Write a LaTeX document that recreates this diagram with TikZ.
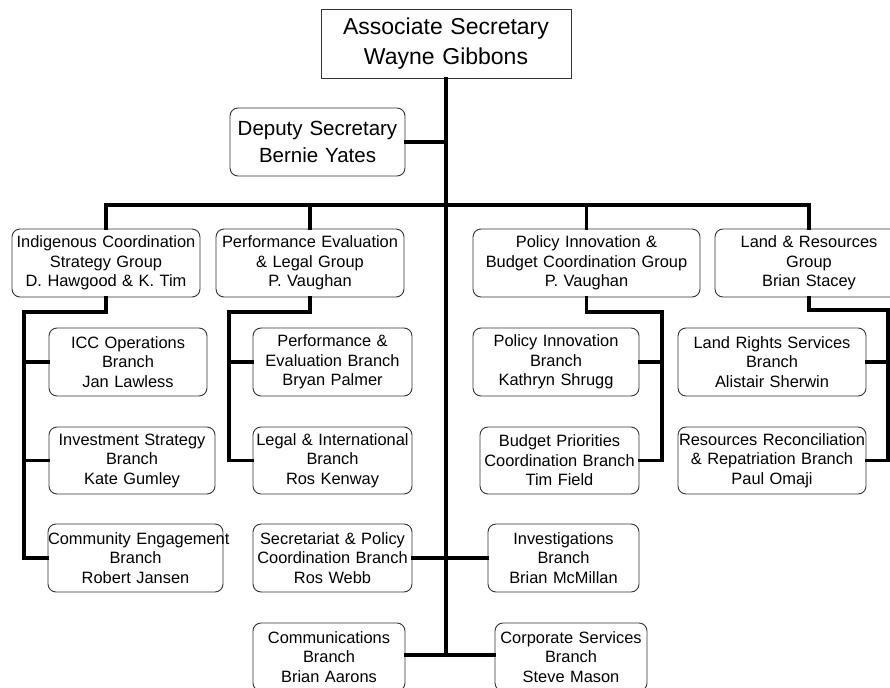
\documentclass[tikz,border=0pt]{standalone}
\usepackage{fontspec}
\setmainfont{Liberation Sans}
\begin{document}
\begin{tikzpicture}[x=1pt,y=-1pt,
  unit/.style={draw=black!80, line width=0.9pt, rounded corners=8pt, inner xsep=0pt, inner ysep=0pt,
    align=center, minimum height=68pt, font=\fontsize{16.4}{19.5}\selectfont},
  headbox/.style={draw=black!80, line width=0.9pt, inner sep=0pt, align=center,
    text width=250pt, minimum height=69pt, font=\fontsize{23}{30}\selectfont},
  deputybox/.style={unit, font=\fontsize{20.5}{27}\selectfont},
  conn/.style={line width=3.4pt, line cap=rect}]
\useasboundingbox (0,0) rectangle (890,687);
\fill[white] (0,0) rectangle (890,687);

% boxes
\node[headbox] (top) at (446,43.5) {Associate Secretary\\Wayne Gibbons};
\node[deputybox, text width=175pt] (deputy) at (317.5,142) {Deputy Secretary\\Bernie Yates};

\node[unit, text width=188pt] (ind) at (106,263) {\mbox{Indigenous Coordination}\\Strategy Group\\D. Hawgood \& K. Tim};
\node[unit, text width=188pt] (perf) at (310,263) {\mbox{Performance Evaluation}\\\& Legal Group\\P. Vaughan};
\node[unit, text width=227pt] (policy) at (586.5,263) {Policy Innovation \&\\\mbox{Budget Coordination Group}\\P. Vaughan};
\node[unit, text width=188pt] (land) at (809,263) {Land \& Resources\\Group\\Brian Stacey};

\node[unit, text width=158pt] (icc) at (128,362) {ICC Operations\\Branch\\Jan Lawless};
\node[unit, text width=166pt, minimum height=67pt] (invest) at (132,460.5) {\mbox{Investment Strategy}\\Branch\\Kate Gumley};
\node[unit, text width=175pt] (community) at (135.5,558) {\mbox{Community Engagement}\\Branch\\Robert Jansen};

\node[unit, text width=159pt] (perfeval) at (332.5,362) {Performance \&\\\mbox{Evaluation Branch}\\Bryan Palmer};
\node[unit, text width=159pt, minimum height=67pt] (legal) at (332.5,460.5) {\mbox{Legal \& International}\\Branch\\Ros Kenway};

\node[unit, text width=166pt] (polinn) at (556,362) {Policy Innovation\\Branch\\Kathryn Shrugg};
\node[unit, text width=159pt, minimum height=67pt] (budget) at (559.5,460.5) {Budget Priorities\\\mbox{Coordination Branch}\\Tim Field};

\node[unit, text width=188pt] (landrights) at (772,362) {\mbox{Land Rights Services}\\Branch\\Alistair Sherwin};
\node[unit, text width=188pt, minimum height=67pt] (resources) at (772,460.5) {\mbox{Resources Reconciliation}\\\mbox{\& Repatriation Branch}\\Paul Omaji};

\node[unit, text width=159pt] (secretariat) at (332.5,558) {\mbox{Secretariat \& Policy}\\\mbox{Coordination Branch}\\Ros Webb};
\node[unit, text width=151pt] (investigations) at (563.5,558) {Investigations\\Branch\\Brian McMillan};
\node[unit, text width=152pt] (comms) at (329,657) {Communications\\Branch\\Brian Aarons};
\node[unit, text width=152pt] (corporate) at (571,657) {\mbox{Corporate Services}\\Branch\\Steve Mason};

% main spine and group bus
\coordinate (bus) at (446,205);
\coordinate (spineend) at (446,655);
\draw[conn] (top.south) -- (spineend);
\draw[conn] (deputy.east) -- (deputy.east -| top.south);
\draw[conn] (ind.north) |- (bus) -| (land.north);
\draw[conn] (perf.north) -- (perf.north |- bus);
\draw[conn] (policy.north) -- (policy.north |- bus);

% branches off the spine
\draw[conn] (secretariat.east) -- (investigations.west);
\draw[conn] (comms.east |- spineend) -- (corporate.west |- spineend);

% Indigenous Coordination branches
\coordinate (indrail) at (24,312);
\draw[conn] (ind.south) |- (indrail) |- (community.west);
\draw[conn] (icc.west) -- (icc.west -| indrail);
\draw[conn] (invest.west) -- (invest.west -| indrail);

% Performance Evaluation branches
\coordinate (perfrail) at (229,312);
\draw[conn] (perf.south) |- (perfrail) |- (legal.west);
\draw[conn] (perfeval.west) -- (perfeval.west -| perfrail);

% Policy Innovation branches
\coordinate (polrail) at (662,312);
\draw[conn] (policy.south) |- (polrail) |- (budget.east);
\draw[conn] (polinn.east) -- (polinn.east -| polrail);

% Land & Resources branches
\coordinate (landrail) at (888,310);
\draw[conn] (land.south) |- (landrail) |- (resources.east);
\draw[conn] (landrights.east) -- (landrights.east -| landrail);
\end{tikzpicture}
\end{document}
